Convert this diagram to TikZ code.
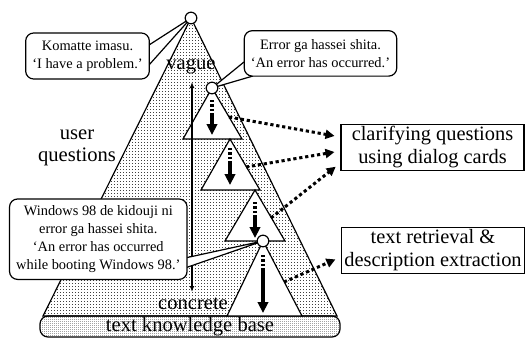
\documentclass[tikz,border=0pt]{standalone}
\usepackage{fontspec}
\setmainfont{Liberation Serif}
\usepackage{tikz}
\usetikzlibrary{arrows.meta}
\usetikzlibrary{patterns.meta}
\usetikzlibrary{positioning}
\tikzdeclarepattern{name=sparsedots, type=uncolored,
  bottom left={(0pt,0pt)}, top right={(1.5pt,1.5pt)}, tile size={(1.5pt,1.5pt)},
  code={\pgfpathrectangle{\pgfpointorigin}{\pgfpoint{0.5pt}{0.5pt}}\pgfusepath{fill}}}
\tikzdeclarepattern{name=densedots, type=uncolored,
  bottom left={(0pt,0pt)}, top right={(1pt,1pt)}, tile size={(1pt,1pt)},
  code={\pgfpathrectangle{\pgfpointorigin}{\pgfpoint{0.5pt}{0.5pt}}\pgfusepath{fill}}}
\tikzset{circ/.style = {draw, fill=white, circle, inner sep = 0, minimum size = 5.8pt}}
\tikzset{tri/.style = {draw, fill=white}}
\tikzset{wedge/.style = {draw, fill=white}}
\tikzset{callout/.style = {draw, fill=white, rounded corners=4pt, align=center,
                           font=\fontsize{7.2}{9}\selectfont}}
\tikzset{target/.style = {draw, fill=white, align=center, minimum width=91.5pt,
                          minimum height=23pt, inner sep=1pt, font=\fontsize{10.2}{11.5}\selectfont}}
\tikzset{tag/.style = {inner sep=0, align=center, font=\fontsize{10.3}{11}\selectfont}}
\tikzset{kbase/.style = {draw, rounded corners=4pt, pattern=densedots, pattern color=black!85,
                         minimum width=150pt, minimum height=10.5pt, inner sep=0,
                         font=\fontsize{10.3}{11}\selectfont}}
\tikzset{drill/.style = {line width=1.6pt,
                         dash pattern=on 1.2pt off 1pt on 1.2pt off 1pt on 1.2pt off 1pt on 60pt off 1pt,
                         -{Triangle[length=5.5pt,width=5.2pt]}}}
\tikzset{hint/.style = {line width=1.5pt, dash pattern=on 1.6pt off 1.4pt,
                        -{Triangle[length=4.5pt,width=4.5pt]}, shorten >=3pt}}
\tikzset{scale axis/.style = {line width=0.6pt,
                              {Latex[length=3pt,width=2.4pt]}-{Latex[length=3pt,width=2.4pt]}}}

\begin{document}
\begin{tikzpicture}[x=0.5pt, y=-0.5pt, line width=0.6pt]
  \useasboundingbox (0,0) rectangle (526,338);

  \coordinate (c0) at (191,18);
  \coordinate (c1) at (212,88);
  \coordinate (c2) at (263,241);
  \coordinate (a2) at (230,139);
  \coordinate (a3) at (255,190);
  \coordinate (b1) at (212,139);
  \coordinate (b2) at (230,190);
  \coordinate (b3) at (255,241);
  \coordinate (b4) at (263,316);
  \coordinate (up) at (192,82);
  \coordinate (down) at (192,292);

  \draw [pattern=sparsedots, pattern color=black!75] (c0) -- (43,316) -- (337,316) -- cycle;
  \node [kbase] (kb) at (190,326.5) {text knowledge base};

  \draw [tri] (c1) -- (183,139) -- (242,139) -- cycle;
  \draw [tri] (a2) -- (201,190) -- (260,190) -- cycle;
  \draw [tri] (a3) -- (225,241) -- (285,241) -- cycle;
  \draw [tri] (c2) -- (227,316) -- (302,316) -- cycle;

  \draw [drill, shorten <=6pt, shorten >=2pt] (c1) -- (b1);
  \draw [drill, shorten <=4.5pt, shorten >=2.5pt] (a2) -- (b2);
  \draw [drill, shorten <=6pt, shorten >=1.5pt] (a3) -- (b3);
  \draw [drill, shorten <=7pt, shorten >=1.5pt] (c2) -- (b4);

  \node [tag] (vague) at (191,66.5) {vague};
  \node [tag] (concrete) at (193,304) {concrete};
  \draw [scale axis] (up) -- (down);

  \node [tag] (users) at (77,148) {user\\questions};

  \node [target] (cards) at (432.5,147.5) {clarifying questions\\using dialog cards};
  \node [target] (retr) at (433,250.5) {text retrieval \&\\description extraction};

  \coordinate (h1) at (229,117);
  \coordinate (h2) at (246,167);
  \coordinate (h3) at (271,218);
  \coordinate (h4) at (284,282);
  \draw [hint] (h1) -- ([yshift=5.25pt]cards.west);
  \draw [hint] (h2) -- ([yshift=-1.75pt]cards.west);
  \draw [hint] (h3) -- ([yshift=-7.75pt]cards.west);
  \draw [hint] (h4) -- ([yshift=-3.25pt]retr.west);

  \coordinate (k1) at (149,45);
  \coordinate (k2) at (149,65);
  \coordinate (e1) at (244,62);
  \coordinate (e2) at (253,76);
  \coordinate (w1) at (185,258);
  \coordinate (w2) at (185,268);
  \draw [wedge] (k1) -- (c0) -- (k2);
  \draw [wedge] (e1) -- (c1) -- (e2);
  \draw [wedge] (w1) -- (c2) -- (w2);

  \node [callout, minimum width=61.5pt, minimum height=23pt] (komatte) at (87.5,56)
        {Komatte imasu.\\‘I have a problem.’};
  \node [callout, minimum width=76.2pt, minimum height=22.7pt] (error) at (320.5,53.4)
        {Error ga hassei shita.\\‘An error has occurred.’};
  \node [callout, minimum width=86.7pt, minimum height=37.5pt] (windows) at (98.3,239.2)
        {Windows 98 de kidouji ni\\error ga hassei shita.\\‘An error has occurred\\while booting Windows 98.’};

  \node [circ] (q0) at (c0) {};
  \node [circ] (q1) at (c1) {};
  \node [circ] (q2) at (c2) {};
\end{tikzpicture}
\end{document}
